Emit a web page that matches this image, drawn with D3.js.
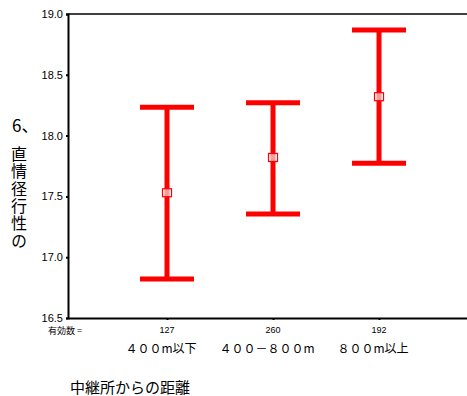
<!DOCTYPE html>
<html><head><meta charset="utf-8">
<script src="https://cdn.jsdelivr.net/npm/d3@7"></script>
<style>body{margin:0;background:#fff}svg{display:block}</style>
</head><body>
<script>
const categories = ["４００m以下", "４００－８００m", "８００m以上"];
const counts = [127, 260, 192];
const means = [17.53, 17.82, 18.32];
const upper = [18.233, 18.27, 18.868];
const lower = [16.82, 17.355, 17.772];
const yTicks = [16.5, 17.0, 17.5, 18.0, 18.5, 19.0];
const yTitleHead = "6、";
const yTitleBody = "直情径行性の";
const xTitle = "中継所からの距離";
const countLabel = "有効数 =";

(function () {
const W = 467, H = 396;
const svg = d3.select("body").append("svg").attr("width", W).attr("height", H);
const pl = 68, pr = 467, pt = 14, pb = 318;
const y = d3.scaleLinear().domain([16.5, 19.0]).range([pb, pt]);
const x = d3.scaleLinear().domain([0.066, 3.83]).range([pl, pr]);
const idx = categories.map((d, i) => i + 1);

// frame
svg.append("line").attr("x1", pl).attr("x2", pr).attr("y1", pt).attr("y2", pt)
  .attr("stroke", "#000").attr("stroke-width", 1.5);

const yAxis = d3.axisLeft(y).tickValues(yTicks).tickFormat(d3.format(".1f")).tickSize(2).tickPadding(3);
const gy = svg.append("g").attr("transform", `translate(${pl},0)`).call(yAxis);
gy.select(".domain").attr("stroke-width", 2);
gy.selectAll(".tick line").attr("stroke-width", 2);
gy.selectAll("text").attr("font-family", "Liberation Sans, Arial, sans-serif").attr("font-size", 11).attr("fill", "#000");

const xAxis = d3.axisBottom(x).tickValues(idx).tickFormat("").tickSize(2).tickSizeOuter(0);
const gx = svg.append("g").attr("transform", `translate(0,${pb})`).call(xAxis);
gx.select(".domain").attr("stroke-width", 2);
gx.selectAll(".tick line").attr("stroke-width", 2);

// error bars
const bars = svg.append("g").selectAll("g").data(idx).join("g");
const red = "#ff0000";
const capW = 54;
bars.append("line").attr("x1", d => x(d)).attr("x2", d => x(d))
  .attr("y1", (d, i) => y(upper[i])).attr("y2", (d, i) => y(lower[i]))
  .attr("stroke", red).attr("stroke-width", 5);
bars.append("line").attr("x1", d => x(d) - capW / 2).attr("x2", d => x(d) + capW / 2)
  .attr("y1", (d, i) => y(upper[i])).attr("y2", (d, i) => y(upper[i]))
  .attr("stroke", red).attr("stroke-width", 5);
bars.append("line").attr("x1", d => x(d) - capW / 2).attr("x2", d => x(d) + capW / 2)
  .attr("y1", (d, i) => y(lower[i])).attr("y2", (d, i) => y(lower[i]))
  .attr("stroke", red).attr("stroke-width", 5);
bars.append("rect").attr("x", d => x(d) - 4.5).attr("y", (d, i) => y(means[i]) - 4)
  .attr("width", 9).attr("height", 8)
  .attr("fill", "rgba(255,255,255,0.6)").attr("stroke", red).attr("stroke-width", 1.2);

// counts
svg.append("text").attr("x", 48).attr("y", 334).text(countLabel)
  .attr("font-family", "Noto Sans CJK JP, sans-serif").attr("font-size", 9);
svg.append("g").selectAll("text").data(counts).join("text")
  .attr("x", (d, i) => x(i + 1)).attr("y", 333).attr("text-anchor", "middle")
  .attr("font-family", "Liberation Sans, Arial, sans-serif").attr("font-size", 9).text(d => d);

// category labels
svg.append("g").selectAll("text").data(categories).join("text")
  .attr("x", (d, i) => x(i + 1) - 6).attr("y", 353).attr("text-anchor", "middle")
  .attr("font-family", "Noto Sans CJK JP, sans-serif").attr("font-size", 12).text(d => d);

// x title
svg.append("text").attr("x", 70).attr("y", 393).text(xTitle)
  .attr("font-family", "Noto Sans CJK JP, sans-serif").attr("font-size", 15);

// y title: "6、" horizontal, rest stacked vertically
const yt = svg.append("g").attr("font-family", "Noto Sans CJK JP, sans-serif").attr("fill", "#000");
yt.append("text").attr("x", 12).attr("y", 132).attr("font-size", 17).text(yTitleHead);
yt.append("text").attr("x", 19).attr("y", 146)
  .attr("font-size", 16)
  .style("writing-mode", "vertical-rl")
  .style("letter-spacing", "1.3px")
  .text(yTitleBody);
})();
</script>
</body></html>
